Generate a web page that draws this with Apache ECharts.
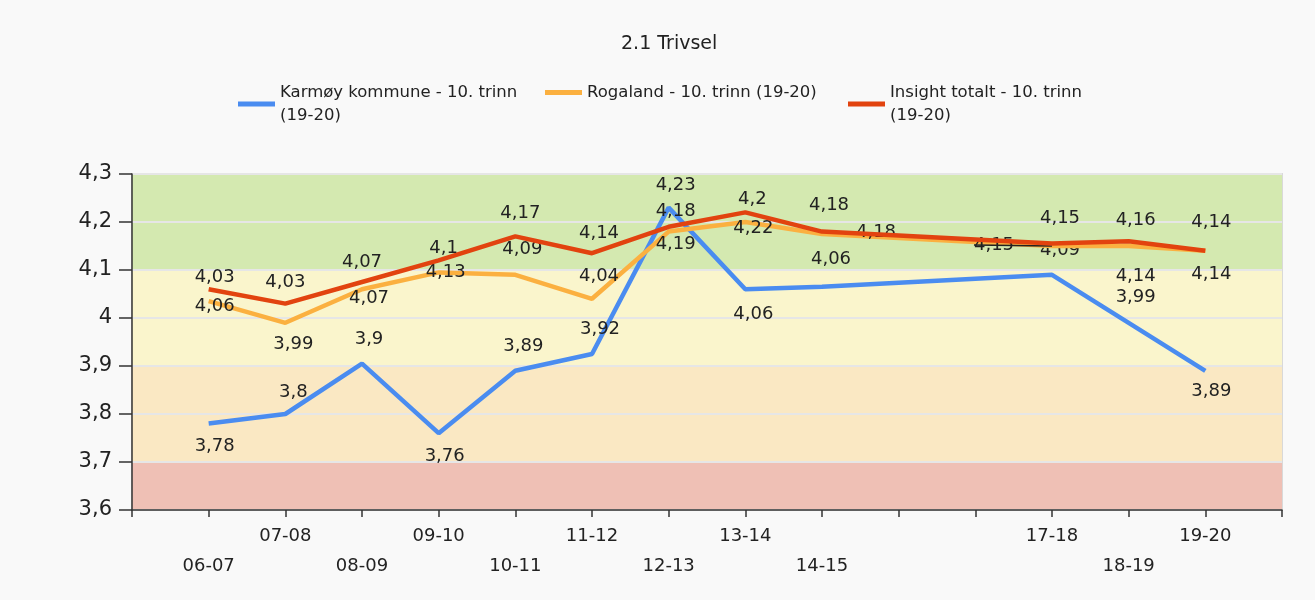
<!DOCTYPE html>
<html>
<head>
<meta charset="utf-8">
<script src="https://cdn.jsdelivr.net/npm/echarts@6/dist/echarts.min.js"></script>
<style>
html,body{margin:0;padding:0;background:#f9f9f9;}
#chart{width:1315px;height:600px;}
</style>
</head>
<body>
<div id="chart"></div>
<script>
// ---- data ----
const categories = ['06-07','07-08','08-09','09-10','10-11','11-12','12-13','13-14','14-15','15-16','16-17','17-18','18-19','19-20'];
const tickLabels = ['06-07','07-08','08-09','09-10','10-11','11-12','12-13','13-14','14-15','','','17-18','18-19','19-20'];
const seriesNames = ['Karmøy kommune - 10. trinn (19-20)','Rogaland - 10. trinn (19-20)','Insight totalt - 10. trinn (19-20)'];
const karmoyValues   = [3.78, 3.80, 3.905, 3.76, 3.89, 3.925, 4.23, 4.06, 4.065, null, null, 4.09, 3.99, 3.89];
const rogalandValues = [4.035, 3.99, 4.06, 4.095, 4.09, 4.04, 4.18, 4.20, 4.175, null, null, 4.15, 4.15, 4.14];
const insightValues  = [4.06, 4.03, 4.075, 4.12, 4.17, 4.135, 4.19, 4.22, 4.18, null, null, 4.155, 4.16, 4.14];
const karmoyLabels   = [3.78, 3.8, 3.9, 3.76, 3.89, 3.92, 4.23, 4.06, 4.06, null, null, 4.09, 3.99, 3.89];
const rogalandLabels = [4.06, 3.99, 4.07, 4.13, 4.09, 4.04, 4.19, 4.22, 4.18, null, null, 4.15, 4.14, 4.14];
const insightLabels  = [4.03, 4.03, 4.07, 4.1, 4.17, 4.14, 4.18, 4.2, 4.18, null, null, 4.15, 4.16, 4.14];
const yTicks = {min: 3.6, max: 4.3, interval: 0.1};

// ---- style ----
const FONT = 'DejaVu Sans';
const colors = ['#4a8cf0', '#fbb040', '#e2430f'];
const bandColors = ['#efc0b5', '#fae8c3', '#fae8c3', '#faf5cc', '#faf5cc', '#d4e9b0', '#d4e9b0'];
const labelOffsets = [
  [[6,23],[8,-22],[7,-24],[6,23],[8,-24],[8,-25],[7,-22],[8,25],[9,-27],null,null,[8,-24],[7,-25],[6,21]],
  [[6,5],[8,22],[7,9],[7,0],[7,-25],[7,-22],[7,13],[8,6],[54,-2],null,null,[-58,-1],[7,30],[6,24]],
  [[6,-12],[0,-21],[0,-20],[5,-12],[5,-23],[7,-20],[7,-15],[7,-13],[7,-26],null,null,[8,-25],[7,-21],[6,-28]]
];
const calloutPoints = [[], [11], []];
const fmt = v => String(v).replace('.', ',');

function buildData(values, labels, s) {
  return values.map((v, i) => {
    if (v == null) return null;
    return {
      value: v,
      label: {show: true, position: 'inside', formatter: () => fmt(labels[i])},
      labelLine: {show: calloutPoints[s].includes(i)}
    };
  });
}

const allValues = [karmoyValues, rogalandValues, insightValues];
const allLabels = [karmoyLabels, rogalandLabels, insightLabels];

const series = seriesNames.map((name, s) => ({
  name: name,
  type: 'line',
  data: [null, ...buildData(allValues[s], allLabels[s], s), null],
  connectNulls: true,
  symbol: 'circle',
  symbolSize: 0,
  showSymbol: true,
  color: colors[s],
  lineStyle: {width: 4.5, color: colors[s]},
  label: {fontFamily: FONT, fontSize: 18, color: '#222'},
  labelLine: {show: false, smooth: false, lineStyle: {color: '#222', width: 1.5}},
  labelLayout: params => {
    const off = labelOffsets[s][params.dataIndex - 1];
    return off ? {dx: off[0], dy: off[1]} : {};
  },
  emphasis: {disabled: true},
  z: 2 + s
}));

const legends = seriesNames.map((name, s) => ({
  data: [name],
  left: [238, 545, 848][s],
  top: 81,
  padding: 0,
  icon: 'rect',
  itemWidth: 37,
  itemHeight: 5,
  itemGap: 0,
  selectedMode: false,
  formatter: n => n.length > 30 ? n.replace(' (19-20)', '\n(19-20)') : n,
  textStyle: {fontFamily: FONT, fontSize: 16.5, color: '#222', lineHeight: 23}
}));

const chart = echarts.init(document.getElementById('chart'));
chart.setOption({
  backgroundColor: '#f9f9f9',
  animation: false,
  title: {
    text: '2.1 Trivsel',
    left: 616,
    top: 30,
    textStyle: {fontFamily: FONT, fontSize: 19, fontWeight: 'normal', color: '#222'}
  },
  legend: legends,
  grid: {
    left: 132, right: 33, top: 174, bottom: 90,
    show: true, borderColor: '#d9d9d9', borderWidth: 2, backgroundColor: 'transparent'
  },
  xAxis: {
    type: 'category',
    boundaryGap: false,
    data: ['', ...categories, ''],
    axisLine: {lineStyle: {color: '#333', width: 1.5}},
    axisTick: {show: true, interval: 0, length: 7, lineStyle: {color: '#333', width: 1.5}},
    axisLabel: {
      interval: 0,
      margin: 11,
      fontFamily: FONT,
      fontSize: 18,
      color: '#222',
      lineHeight: 30,
      formatter: (val, idx) => {
        const i = idx - 1;
        if (i < 0 || i >= tickLabels.length) return '';
        return i % 2 === 0 ? '\n' + tickLabels[i] : tickLabels[i];
      }
    },
    splitLine: {show: false}
  },
  yAxis: {
    type: 'value',
    min: yTicks.min,
    max: yTicks.max,
    interval: yTicks.interval,
    axisLine: {show: true, lineStyle: {color: '#333', width: 1.5}},
    axisTick: {show: true, length: 13, lineStyle: {color: '#333', width: 1.5}},
    axisLabel: {
      margin: 20,
      fontFamily: FONT,
      fontSize: 21,
      color: '#222',
      formatter: v => fmt(Math.round(v * 10) / 10)
    },
    splitLine: {show: true, lineStyle: {color: '#e6e6e6', width: 2}},
    splitArea: {show: true, areaStyle: {color: bandColors}}
  },
  series: series
});
</script>
</body>
</html>
